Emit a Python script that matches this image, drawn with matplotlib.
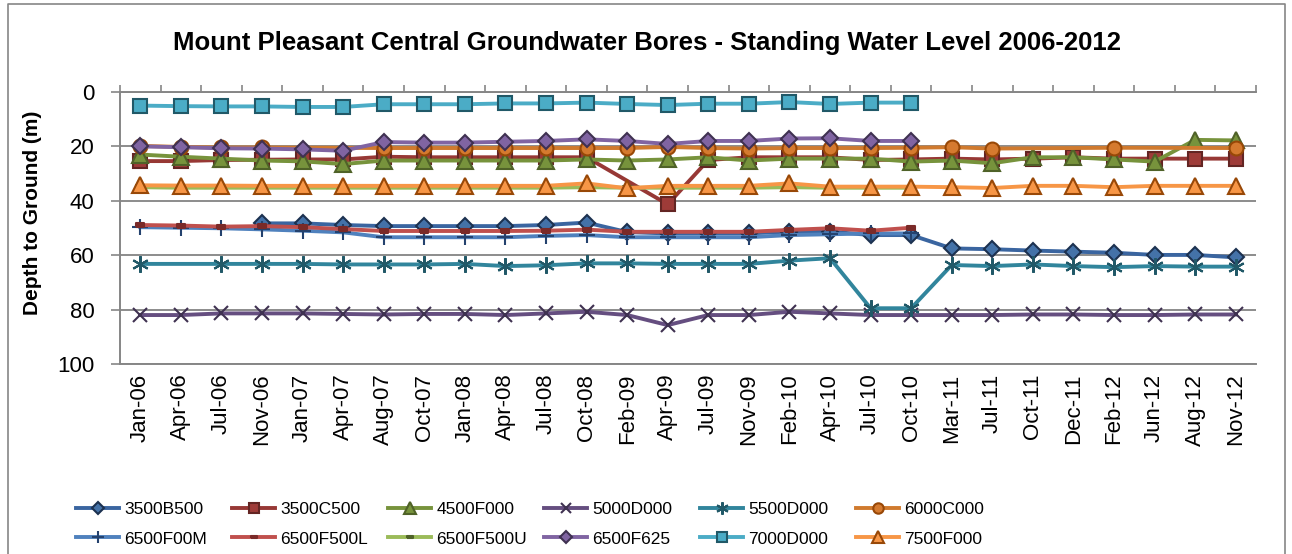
import numpy as np
import matplotlib
matplotlib.use('Agg')
import matplotlib.pyplot as plt
from matplotlib.lines import Line2D

plt.rcParams['font.family'] = ['Liberation Sans', 'DejaVu Sans']

nan = np.nan

dates = ['Jan-06', 'Apr-06', 'Jul-06', 'Nov-06', 'Jan-07', 'Apr-07', 'Aug-07', 'Oct-07',
         'Jan-08', 'Apr-08', 'Jul-08', 'Oct-08', 'Feb-09', 'Apr-09', 'Jul-09', 'Nov-09',
         'Feb-10', 'Apr-10', 'Jul-10', 'Oct-10', 'Mar-11', 'Jul-11', 'Oct-11', 'Dec-11',
         'Feb-12', 'Jun-12', 'Aug-12', 'Nov-12']

# depth to ground (m) per bore, nan = no reading
b3500B500 = [nan, nan, nan, 48.3, 48.3, 48.9, 49.3, 49.3, 49.3, 49.3, 48.9, 48.0, 51.5, 52.0,
             52.0, 52.0, 51.3, 51.3, 52.6, 52.6, 57.5, 57.8, 58.3, 58.7, 59.1, 59.9, 59.9, 60.8]
b3500C500 = [25.4, 25.4, 25.0, 24.9, 24.8, 24.8, 23.8, 24.0, 24.0, 24.0, 24.0, 24.0, nan, 41.3,
             25.0, 24.0, 24.0, 24.0, 25.0, 24.8, 24.5, 24.8, 24.5, 24.0, 24.5, 24.5, 24.5, 24.5]
b4500F000 = [23.0, 23.8, 24.5, 25.2, 25.5, 26.5, 25.2, 25.2, 25.2, 25.2, 25.2, 24.8, 25.2, 24.8,
             24.0, 25.2, 24.5, 24.5, 24.5, 25.6, 25.2, 26.2, 24.0, 24.0, 24.8, 25.6, 17.6, 17.8]
b5000D000 = [82.0, 82.0, 81.4, 81.4, 81.4, 81.6, 81.8, 81.6, 81.6, 82.0, 81.4, 80.8, 82.0, 85.7,
             82.0, 82.0, 80.8, 81.4, 82.0, 82.0, 82.0, 82.0, 81.8, 81.8, 82.0, 82.0, 81.8, 81.8]
b5500D000 = [63.2, nan, 63.2, 63.2, 63.2, 63.4, 63.4, 63.4, 63.2, 64.0, 63.7, 63.0, 63.0, 63.2,
             63.2, 63.2, 62.0, 61.1, 79.5, 79.5, 63.6, 64.0, 63.4, 64.0, 64.4, 64.0, 64.2, 64.2]
b6000C000 = [19.8, 20.2, 20.4, 20.4, nan, nan, 20.6, 20.6, 20.6, 20.6, 20.6, 20.6, 20.6, 20.2,
             20.6, 20.8, 20.6, 20.6, 20.6, 20.5, 20.3, 20.8, nan, nan, 20.5, nan, nan, 20.6]
b6500F00M = [49.7, 49.9, 50.1, 50.5, 51.0, 51.6, 53.4, 53.4, 53.4, 53.4, 52.9, 52.6, 53.4, 53.4,
             53.4, 53.4, 52.6, 52.3, 52.0, 52.0] + [nan] * 8
b6500F500L = [48.9, 49.1, 49.5, 49.3, 49.7, 50.4, 51.1, 51.1, 51.1, 51.1, 51.0, 50.6, 51.4, 51.4,
              51.4, 51.4, 50.7, 50.1, 51.0, 49.9] + [nan] * 8
b6500F500U = [35.0, 35.2, 35.2, 35.2, 35.2, 35.2, 35.2, 35.2, 35.2, 35.2, 35.2, 35.0, 35.2, 35.2,
              35.2, 35.2, 35.0, 35.2, 35.2, 35.2] + [nan] * 8
b6500F625 = [20.0, 20.3, 20.7, 20.8, 21.1, 21.6, 18.4, 18.6, 18.6, 18.3, 18.0, 17.4, 18.0, 19.1,
             18.0, 18.0, 17.1, 17.0, 18.0, 18.0] + [nan] * 8
b7000D000 = [5.0, 5.2, 5.3, 5.3, 5.5, 5.5, 4.5, 4.5, 4.5, 4.2, 4.2, 3.9, 4.4, 4.8,
             4.3, 4.3, 3.7, 4.4, 3.9, 3.9] + [nan] * 8
b7500F000 = [34.3, 34.4, 34.4, 34.5, 34.5, 34.5, 34.5, 34.5, 34.5, 34.5, 34.5, 33.6, 35.4, 34.5,
             34.5, 34.5, 33.6, 34.8, 34.8, 34.8, 35.0, 35.3, 34.5, 34.5, 35.0, 34.5, 34.5, 34.5]

dash = [(-1, -0.45), (1, -0.45), (1, 0.45), (-1, 0.45), (-1, -0.45)]

# name, values, line colour, marker, marker face, marker edge, marker size
series = [
    ('3500B500', b3500B500, '#3A65A0', 'D', '#4472A8', '#1C3150', 8),
    ('3500C500', b3500C500, '#973835', 's', '#9E3B38', '#632523', 10),
    ('4500F000', b4500F000, '#77933C', '^', '#77933C', '#4F6228', 11),
    ('5000D000', b5000D000, '#654E80', 'x', '#3F3151', '#3F3151', 10),
    ('5500D000', b5500D000, '#31859C', (6, 2, 0), '#215968', '#215968', 12),
    ('6000C000', b6000C000, '#D07A2E', 'o', '#D57A2F', '#984807', 10),
    ('6500F00M', b6500F00M, '#4F81BD', '+', '#24426E', '#24426E', 12),
    ('6500F500L', b6500F500L, '#C0504D', dash, '#7A2A28', '#7A2A28', 6),
    ('6500F500U', b6500F500U, '#9BBB59', dash, '#4F6228', '#4F6228', 6),
    ('6500F625', b6500F625, '#8064A2', 'D', '#8064A2', '#3F3151', 8),
    ('7000D000', b7000D000, '#4BACC6', 's', '#4BACC6', '#215968', 10),
    ('7500F000', b7500F000, '#F79646', '^', '#F79646', '#984807', 11),
]

W, H = 1292, 554
fig = plt.figure(figsize=(W / 100, H / 100), dpi=100)
ax = fig.add_axes([120 / W, 1 - 364 / H, 1136 / W, 272 / H])

x = np.arange(len(dates))
handles = []
for name, vals, col, mk, fc, ec, ms in series:
    v = np.array(vals, dtype=float)
    ok = ~np.isnan(v)
    h, = ax.plot(x[ok], v[ok], color=col, lw=2.8, marker=mk, ms=ms,
                 markerfacecolor=fc, markeredgecolor=ec, mew=1.5, label=name,
                 solid_joinstyle='round')
    handles.append(h)

ax.set_xlim(-0.5, len(dates) - 0.5)
ax.set_ylim(100, 0)
ax.set_yticks(np.arange(0, 101, 20))
ax.yaxis.grid(True, color='#8C8C8C', lw=1.4)
ax.set_axisbelow(True)

ax.set_xticks(x)
ax.set_xticklabels(dates, rotation=90, fontsize=16)
ax.set_xticks(np.arange(-0.5, len(dates)), minor=True)
ax.tick_params(axis='x', which='major', length=0, pad=7)
ax.tick_params(axis='x', which='minor', top=True, bottom=False, direction='out',
               length=5, width=1.2, color='#868686')
ax.tick_params(axis='y', direction='out', length=6.5, width=1.2, color='#868686',
               labelsize=16, pad=12)

ax.spines['right'].set_visible(False)
for s in ['left', 'top', 'bottom']:
    ax.spines[s].set_color('#868686')
    ax.spines[s].set_linewidth(1.4)

ax.set_ylabel('Depth to Ground (m)', fontsize=15, fontweight='bold')
ax.yaxis.set_label_coords(-(120 - 42) / 1136, (364 - 213) / 272)

fig.text(647 / W, 1 - 43 / H, 'Mount Pleasant Central Groundwater Bores - Standing Water Level 2006-2012',
         ha='center', va='center', fontsize=18.5, fontweight='bold')

# legend: one small legend per column so the columns sit at even steps
for j in range(6):
    pair = [handles[j], handles[j + 6]]
    fig.legend(pair, [h.get_label() for h in pair], frameon=False,
               loc='center left', bbox_to_anchor=((76 + 156 * j) / W, 1 - 524 / H),
               fontsize=12.5, handlelength=2.5, handletextpad=0.3, labelspacing=0.85,
               borderpad=0, borderaxespad=0, markerscale=0.75)

# chart border
fig.add_artist(Line2D([8 / W, 8 / W, 1285 / W, 1285 / W], [0, 1 - 4 / H, 1 - 4 / H, 0],
                      transform=fig.transFigure, color='#868686', lw=1.2))

fig.savefig('out.png', dpi=100)
